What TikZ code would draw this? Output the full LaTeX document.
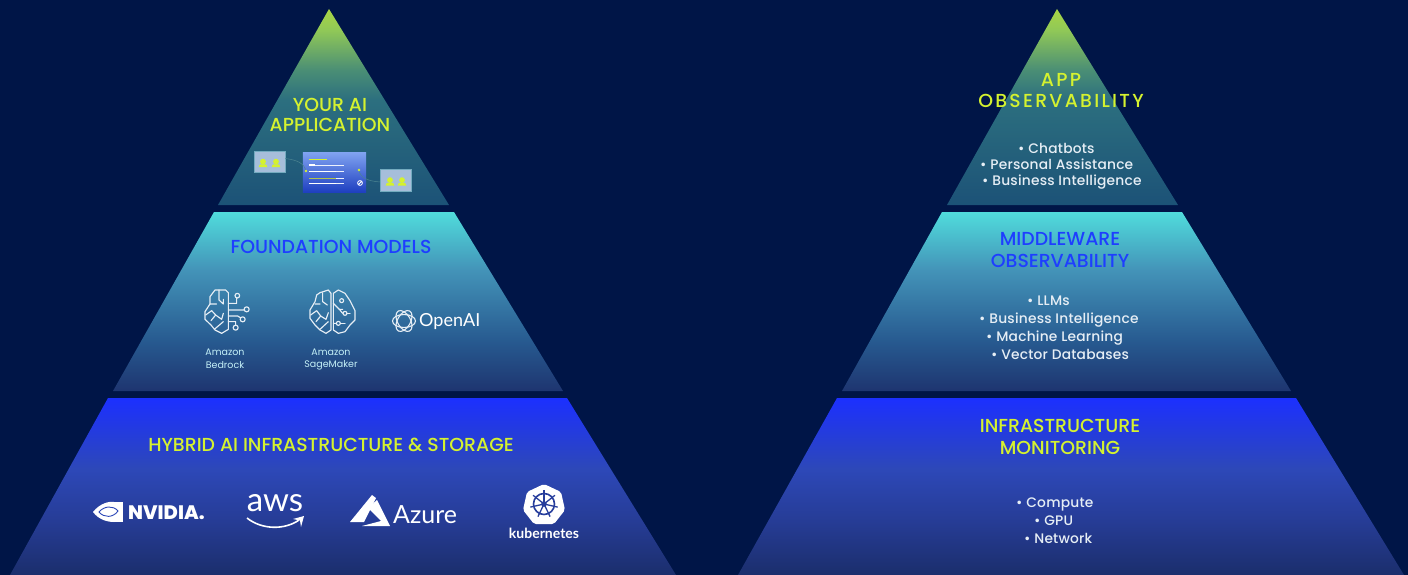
\documentclass[tikz,border=0pt]{standalone}
\usepackage{fontspec}
\setmainfont{Poppins}
\newfontfamily\hdface{Poppins Medium}
\newfontfamily\hdspaced[LetterSpace=12]{Poppins Medium}
\newfontfamily\bodyface[LetterSpace=1.5]{Poppins Medium}
\newfontfamily\logoface{Lato}
\definecolor{bgnavy}{HTML}{001547}
\definecolor{yel}{HTML}{D5F22F}
\definecolor{royal}{HTML}{1E3EFF}
\definecolor{soft}{HTML}{E6EEF5}
\definecolor{ta}{HTML}{A8D545}\definecolor{tb}{HTML}{90C857}\definecolor{tc}{HTML}{4A8E75}\definecolor{td}{HTML}{2C6F7F}\definecolor{te}{HTML}{1C5277}
\definecolor{ma}{HTML}{50DCDC}\definecolor{mb}{HTML}{4393B8}\definecolor{mc}{HTML}{275A90}\definecolor{md}{HTML}{1E3570}
\definecolor{ba}{HTML}{1C30FF}\definecolor{bb}{HTML}{2D48B8}\definecolor{bc}{HTML}{263C95}\definecolor{bd}{HTML}{1B2E6C}
\definecolor{cardfill}{HTML}{A6BEDA}
\definecolor{cardtop}{HTML}{7FA2F0}\definecolor{cardbot}{HTML}{1E3FC0}
\pgfdeclareverticalshading{shtop}{100bp}{color(0bp)=(te);color(25bp)=(te);color(51.8bp)=(td);color(59.4bp)=(tc);color(69.6bp)=(tb);color(75bp)=(ta);color(100bp)=(ta)}
\pgfdeclareverticalshading{shmid}{100bp}{color(0bp)=(md);color(25bp)=(md);color(39bp)=(mc);color(58.7bp)=(mb);color(75bp)=(ma);color(100bp)=(ma)}
\pgfdeclareverticalshading{shbot}{100bp}{color(0bp)=(bd);color(25bp)=(bd);color(40bp)=(bc);color(55bp)=(bb);color(75bp)=(ba);color(100bp)=(ba)}
\tikzset{
  hd/.style={inner sep=0pt,anchor=center,text=yel,font=\hdface\fontsize{18.85}{22}\selectfont},
  hdblue/.style={inner sep=0pt,anchor=center,text=royal,font=\hdface\fontsize{18.85}{22}\selectfont},
  hdwide/.style={inner sep=0pt,anchor=center,text=yel,font=\hdspaced\fontsize{18.85}{22}\selectfont},
  bullet/.style={inner sep=0pt,anchor=base west,text=soft,font=\bodyface\fontsize{13.8}{16}\selectfont},
  caption/.style={inner sep=0pt,anchor=center,text=soft!85!cyan,font=\fontsize{9.5}{11}\selectfont},
  iconline/.style={draw=soft,line width=1.15pt,line join=round,line cap=round},
  card/.style={fill=cardfill,draw=cardfill!70!teal,line width=0.4pt},
  rowline/.style={draw=white!85!cardtop,line width=0.5pt},
  figure/.pic={\fill[yel] (0,-5.4) circle (2.9);\fill[yel] (-4.4,0.2)--(-3.2,-2.6)--(3.2,-2.6)--(4.4,0.2)--cycle;},
  bedrockicon/.pic={
    \begin{scope}[x=0.3333pt,y=-0.3333pt]
    \draw[iconline] (60,30)--(92,30)--(100,38)--(100,148)--(80,160)--(60,150)--(48,135)--(30,118)--(30,95)--(45,72)--(45,50)--cycle;
    \draw[iconline] (72,30)--(72,60)--(85,72)--(85,58) (45,72)--(65,72) (32,105)--(50,92)--(62,105) (62,105)--(48,122) (62,105)--(80,118)--(85,100) (58,148)--(85,125);
    \draw[iconline] (100,70)--(125,70)--(125,55) (127,47) circle (7);
    \draw[iconline] (100,90)--(147,90) (155,88) circle (7.5);
    \draw[iconline] (100,108)--(128,108)--(136,113) (143,118) circle (7.5);
    \draw[iconline] (100,125)--(122,125)--(122,135) (122,143) circle (7.5);
    \end{scope}},
  sagemakericon/.pic={
    \begin{scope}[x=0.3333pt,y=-0.3333pt]
    \draw[iconline] (60,38)--(85,30)--(93,40)--(93,150)--(78,160)--(60,150)--(45,135)--(30,115)--(30,90)--(45,65)--(50,45)--cycle;
    \draw[iconline] (100,40)--(115,30)--(135,40)--(150,62)--(165,92)--(165,120)--(150,135)--(135,155)--(115,160)--(100,150)--cycle;
    \draw[iconline] (68,38)--(68,65)--(82,75) (45,72)--(60,72) (32,105)--(50,92)--(62,108)--(48,125) (62,108)--(78,118)--(85,98) (60,148)--(85,125);
    \draw[iconline] (100,70)--(118,88)--(128,88) (125,62) circle (6) (135,100) circle (6);
    \draw[iconline] (118,88)--(128,100) (100,130)--(108,130) (115,130) circle (6);
    \draw[iconline] (140,100)--(150,100) (122,130)--(135,130);
    \end{scope}}
}
\begin{document}
\begin{tikzpicture}[x=1pt,y=-1pt]
\useasboundingbox (0,0) rectangle (1408,575);
\fill[bgnavy] (0,0) rectangle (1408,575);
% left pyramid
\shade[shading=shtop] (329,9)--(449,205)--(218,205)--cycle;
\shade[shading=shmid] (214,212)--(454,212)--(563,391)--(113,391)--cycle;
\shade[shading=shbot] (108,398)--(567,398)--(676,575)--(10,575)--cycle;
% right pyramid
\shade[shading=shtop] (1057,9)--(1178,205)--(947,205)--cycle;
\shade[shading=shmid] (942,212)--(1182,212)--(1291,391)--(842,391)--cycle;
\shade[shading=shbot] (837,398)--(1296,398)--(1404,575)--(738,575)--cycle;
% left labels
\node[hd] (yourai) at (330,104.8) {YOUR AI};
\node[hd] (application) at (330,125) {APPLICATION};
\node[hdblue] (foundation) at (331,246.8) {FOUNDATION MODELS};
\node[hd] (hybrid) at (331,444.8) {HYBRID AI INFRASTRUCTURE \& STORAGE};
% application thumbnail
\node[card,minimum width=31pt,minimum height=21pt,inner sep=0pt] (cardleft) at (269.5,161.5) {};
\node[card,minimum width=31pt,minimum height=22pt,inner sep=0pt] (cardright) at (395.5,180) {};
\node[inner sep=0pt,minimum width=63pt,minimum height=39pt] (cardmid) at (334.5,172.5) {};
\shade[top color=cardtop,bottom color=cardbot] (cardmid.north west) rectangle (cardmid.south east);
\pic at (263,167) {figure};
\pic at (276,167) {figure};
\pic at (390,185.5) {figure};
\pic at (402,185.5) {figure};
\draw[yel,line width=1pt] (309,159)--(327,159);
\draw[rowline] (309,165)--(344,165) (309,171)--(344,171) (309,178)--(344,178) (309,183)--(344,183);
\draw[white,line width=1.2pt] (309,165)--(315,165);
\draw[white,line width=0.8pt] (309,171)--(336,171) (309,183)--(336,183);
\draw[yel!60!gray,line width=0.8pt] (309,178)--(336,178);
\coordinate (dotleft) at (306,171);
\coordinate (dotright) at (359,170);
\draw[white,line width=0.8pt] (360,183) circle (2.4) (358,185)--(362,181);
\draw[td!85!white,line width=0.5pt] (cardleft.east) ++(0,-3) .. controls (297,160) and (304,163) .. (dotleft);
\draw[td!85!white,line width=0.5pt] (cardright.west) ++(0,2) .. controls (368,181) and (360,178) .. (dotright);
\fill[yel] (dotleft) circle (1.4);
\fill[yel] (dotright) circle (1.4);
% foundation models
\pic at (195,280) {bedrockicon};
\pic at (300,280) {sagemakericon};
\node[caption] (a1) at (225,352.5) {Amazon};
\node[caption] (a2) at (225,365.5) {Bedrock};
\node[caption] (a3) at (331,352.5) {Amazon};
\node[caption] (a4) at (331,365.5) {SageMaker};
\foreach \r in {0,60,120}{
  \draw[soft,line width=1.1pt,rotate around={\r:(404,321)}] (404,321) ellipse (11.5 and 6.5);
}
\node[inner sep=0pt,anchor=west,text=white,font=\logoface\fontsize{18}{22}\selectfont] (openai) at (419,322) {OpenAI};
% infrastructure logos
\fill[white] (112,502) rectangle (123,522);
\fill[white] (93,512) .. controls (100,503) and (110,501) .. (114,502) -- (114,522) .. controls (108,522) and (99,520) .. (93,512) -- cycle;
\draw[bb,line width=0.9pt] (99,512) .. controls (104,506) and (113,505) .. (118,511) .. controls (113,518) and (104,518) .. (99,512) -- cycle;
\fill[white] (109,512) circle (2.5);
\node[inner sep=0pt,anchor=west,text=white,font=\hdface\bfseries\fontsize{19.5}{22}\selectfont] (nvidia) at (128,512.5) {NVIDIA.};
\node[inner sep=0pt,anchor=center,text=white,font=\logoface\fontsize{33}{36}\selectfont] (aws) at (275,503.5) {aws};
\draw[white,line width=1.6pt] (247,518) .. controls (262,530) and (285,530) .. (299,520);
\fill[white] (293,519) -- (304,516) -- (301,527) -- (300,520.5) -- cycle;
\fill[white] (372,495)--(350,522)--(364,522)--(376,498)--cycle;
\fill[white] (377,500)--(390,526)--(362,526)--(381,521)--(368,508)--cycle;
\node[inner sep=0pt,anchor=west,text=white,font=\logoface\fontsize{25}{30}\selectfont] (azure) at (393,515) {Azure};
\fill[white,rounded corners=2pt] (544,484)--(561,492)--(565,510)--(554,524)--(534,524)--(523,510)--(527,492)--cycle;
\draw[bb!85!black,line width=1.6pt] (544,504) circle (10.5);
\fill[bb!85!black] (544,504) circle (2.8);
\foreach \r in {0,51.4,102.9,154.3,205.7,257.1,308.6}{
  \draw[bb!85!black,line width=1.3pt,rotate around={\r:(544,504)}] (544,504)--(544,490);
}
\node[inner sep=0pt,anchor=center,text=white,font=\logoface\bfseries\fontsize{14}{16}\selectfont] (k8s) at (544,533) {kubernetes};
% right labels
\node[hdwide] (app) at (1061,79.8) {APP};
\node[hdwide] (obs) at (1061,101) {OBSERVABILITY};
\node[hdblue] (mw) at (1060,238.8) {MIDDLEWARE};
\node[hdblue] (obs2) at (1060,260.5) {OBSERVABILITY};
\node[hd] (infra) at (1060,425.8) {INFRASTRUCTURE};
\node[hd] (mon) at (1060,447.5) {MONITORING};
\node[bullet] (b1) at (1018,153.5) {• Chatbots};
\node[bullet] (b2) at (980,169.5) {• Personal Assistance};
\node[bullet] (b3) at (982,185.5) {• Business Intelligence};
\node[bullet] (b4) at (1027,305) {• LLMs};
\node[bullet] (b5) at (979,323) {• Business Intelligence};
\node[bullet] (b6) at (986,341) {• Machine Learning};
\node[bullet] (b7) at (991,359) {• Vector Databases};
\node[bullet] (b8) at (1016,507.5) {• Compute};
\node[bullet] (b9) at (1034,525) {• GPU};
\node[bullet] (b10) at (1024,543) {• Network};
\end{tikzpicture}
\end{document}
